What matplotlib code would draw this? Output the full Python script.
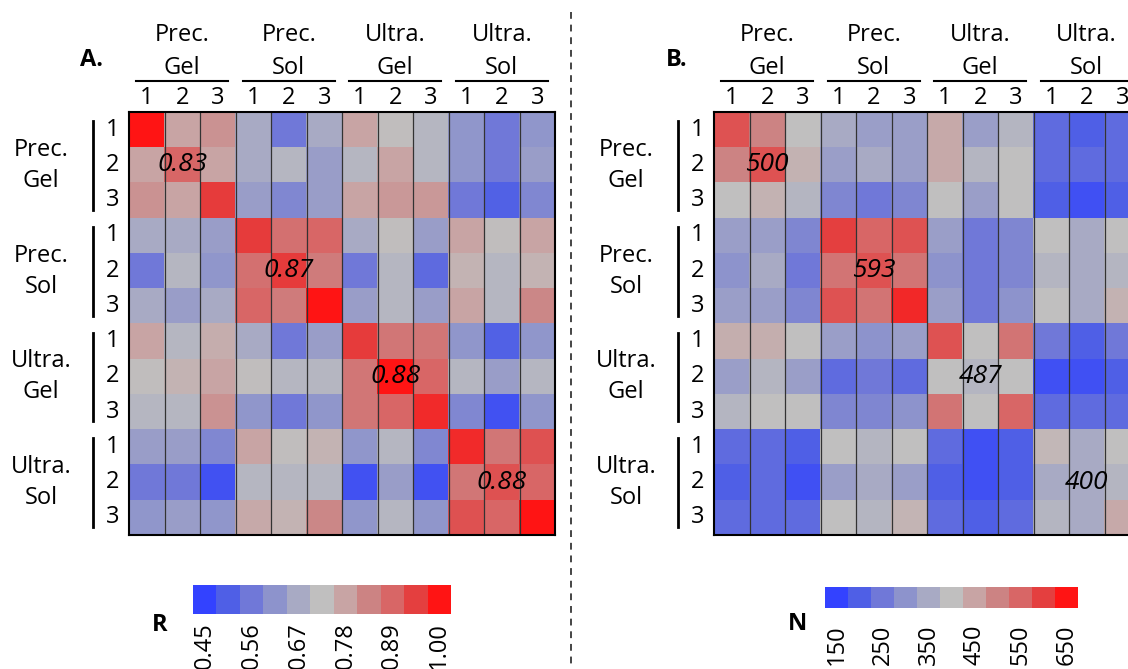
import numpy as np
import matplotlib
matplotlib.use("Agg")
import matplotlib.pyplot as plt
from matplotlib.colors import LinearSegmentedColormap

plt.rcParams['font.family'] = ['Open Sans', 'DejaVu Sans']

# ---- data ----
groups = [("Prec.", "Gel"), ("Prec.", "Sol"), ("Ultra.", "Gel"), ("Ultra.", "Sol")]
reps = ["1", "2", "3"]

r_values = np.array([
    [1.00, 0.78, 0.81, 0.67, 0.56, 0.67, 0.78, 0.73, 0.70, 0.62, 0.56, 0.62],
    [0.78, 0.89, 0.78, 0.67, 0.70, 0.64, 0.70, 0.78, 0.70, 0.62, 0.56, 0.64],
    [0.81, 0.78, 0.95, 0.64, 0.59, 0.64, 0.78, 0.80, 0.80, 0.56, 0.51, 0.59],
    [0.67, 0.67, 0.64, 0.95, 0.87, 0.89, 0.67, 0.73, 0.64, 0.78, 0.73, 0.78],
    [0.56, 0.70, 0.62, 0.87, 0.95, 0.85, 0.56, 0.70, 0.53, 0.75, 0.70, 0.75],
    [0.67, 0.64, 0.67, 0.89, 0.85, 1.00, 0.64, 0.70, 0.64, 0.78, 0.70, 0.83],
    [0.78, 0.70, 0.76, 0.67, 0.56, 0.64, 0.95, 0.86, 0.86, 0.62, 0.51, 0.62],
    [0.73, 0.75, 0.78, 0.73, 0.70, 0.70, 0.86, 1.00, 0.89, 0.70, 0.64, 0.70],
    [0.70, 0.70, 0.81, 0.62, 0.56, 0.62, 0.86, 0.89, 0.97, 0.59, 0.48, 0.62],
    [0.64, 0.64, 0.59, 0.78, 0.73, 0.75, 0.62, 0.70, 0.59, 0.97, 0.86, 0.92],
    [0.56, 0.56, 0.48, 0.70, 0.70, 0.70, 0.48, 0.64, 0.48, 0.86, 0.92, 0.89],
    [0.62, 0.64, 0.62, 0.77, 0.75, 0.83, 0.62, 0.70, 0.62, 0.92, 0.89, 1.00],
])

n_values = np.array([
    [575, 500, 400, 350, 325, 325, 440, 325, 375, 225, 200, 225],
    [500, 575, 425, 325, 350, 325, 440, 375, 400, 225, 225, 225],
    [400, 425, 375, 275, 250, 275, 400, 325, 400, 200, 175, 200],
    [325, 325, 275, 600, 550, 575, 325, 250, 275, 400, 350, 400],
    [300, 350, 250, 525, 575, 525, 300, 250, 275, 375, 350, 375],
    [325, 325, 275, 575, 525, 625, 325, 250, 300, 400, 350, 425],
    [430, 430, 400, 325, 300, 325, 575, 400, 525, 250, 200, 250],
    [325, 375, 325, 225, 250, 225, 400, 375, 400, 175, 175, 200],
    [375, 400, 400, 275, 275, 300, 525, 400, 550, 225, 225, 225],
    [225, 225, 200, 400, 375, 400, 225, 175, 200, 415, 350, 400],
    [200, 225, 175, 325, 350, 325, 200, 175, 200, 350, 350, 375],
    [225, 225, 225, 400, 375, 420, 225, 200, 225, 375, 350, 440],
])

r_block_labels = ["0.83", "0.87", "0.88", "0.88"]
n_block_labels = ["500", "593", "487", "400"]

r_ticks = ["0.45", "0.56", "0.67", "0.78", "0.89", "1.00"]
n_ticks = ["150", "250", "350", "450", "550", "650"]

# ---- style ----
W, H = 1128, 669
cmap = LinearSegmentedColormap.from_list("bgr", [
    "#3342FF", "#5060E6", "#7078D8", "#8E94CC", "#A8AAC4", "#C0C0C0",
    "#C8A4A4", "#CC8484", "#D86666", "#E44040", "#FF1414"])
FS = 17

fig = plt.figure(figsize=(W / 100, H / 100), dpi=100)


def px_axes(x0, y0, x1, y1):
    return fig.add_axes([x0 / W, 1 - y1 / H, (x1 - x0) / W, (y1 - y0) / H])


def heatmap(left, top, right, bottom, data, vmin, vmax, block_labels):
    ax = px_axes(left, top, right, bottom)
    ax.imshow(data, cmap=cmap, vmin=vmin, vmax=vmax, aspect='auto',
              interpolation='nearest')
    for i in range(1, data.shape[1]):
        ax.axvline(i - 0.5, color='#333333', lw=0.9)
    for k, lab in enumerate(block_labels):
        ax.text(3 * k + 1, 3 * k + 1, lab, ha='center', va='center',
                fontsize=19, style='italic')
    ax.set_xticks([])
    ax.set_yticks([])
    for s in ax.spines.values():
        s.set_linewidth(1.5)
    return ax


def colorbar(x0, y0, x1, y1, vmin, vmax, ticks, pad):
    ax = px_axes(x0, y0, x1, y1)
    ax.imshow(np.linspace(vmin, vmax, 11)[None, :], cmap=cmap, vmin=vmin,
              vmax=vmax, aspect='auto', interpolation='nearest')
    ax.set_yticks([])
    ax.set_xticks(np.arange(0, 11, 2))
    ax.set_xticklabels(ticks, rotation=90, fontsize=FS)
    ax.tick_params(axis='x', length=0, pad=pad)
    for s in ax.spines.values():
        s.set_visible(False)


def labels(ov, left, top, right, bottom, letter):
    cw = (right - left) / 12
    ch = (bottom - top) / 12
    for g, (l1, l2) in enumerate(groups):
        gx = left + (3 * g + 1.5) * cw
        ov.text(gx, 35, l1, ha='center', va='center', fontsize=FS)
        ov.text(gx, 68, l2, ha='center', va='center', fontsize=FS)
        ov.plot([gx - 46, gx + 46], [81, 81], color='black', lw=1.5)
        gy = top + (3 * g + 1.5) * ch
        ov.text(left - 88, gy - 15, l1, ha='center', va='center', fontsize=FS)
        ov.text(left - 88, gy + 16, l2, ha='center', va='center', fontsize=FS)
        ov.plot([left - 36, left - 36], [top + 3 * g * ch + 9, top + (3 * g + 3) * ch - 8],
                color='black', lw=2)
        for j, r in enumerate(reps):
            ov.text(left + (3 * g + j + 0.5) * cw, 98, r, ha='center', va='center',
                    fontsize=FS)
            ov.text(left - 16, top + (3 * g + j + 0.5) * ch, r, ha='center',
                    va='center', fontsize=FS)
    ov.text(left - 37, 60, letter, ha='center', va='center', fontsize=FS,
            fontweight='bold')


heatmap(129, 112, 555, 535, r_values, 0.45, 1.00, r_block_labels)
heatmap(714, 112, 1140, 535, n_values, 150, 650, n_block_labels)
colorbar(193, 585, 451, 614, 0.45, 1.00, r_ticks, 6)
colorbar(825, 587, 1078, 608, 150, 650, n_ticks, 12)

ov = fig.add_axes([0, 0, 1, 1])
ov.set_xlim(0, W)
ov.set_ylim(H, 0)
ov.axis('off')
labels(ov, 129, 112, 555, 535, "A.")
labels(ov, 714, 112, 1140, 535, "B.")
ov.text(160, 625, "R", ha='center', va='center', fontsize=FS, fontweight='bold')
ov.text(797, 624, "N", ha='center', va='center', fontsize=FS, fontweight='bold')
ov.plot([571, 571], [12, 669], color='#444444', lw=1.4, ls=(0, (3.5, 3)))

fig.savefig("out.png", dpi=100)
